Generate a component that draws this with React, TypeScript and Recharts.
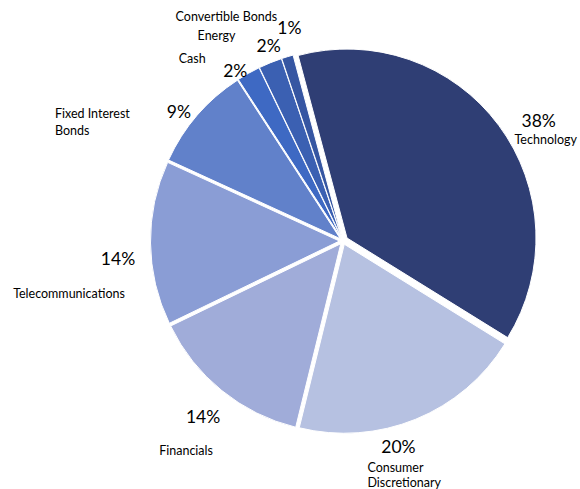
import { PieChart, Pie, Cell, Sector } from "recharts";

const CATEGORIES = [
  "Technology",
  "Consumer Discretionary",
  "Financials",
  "Telecommunications",
  "Fixed Interest Bonds",
  "Cash",
  "Energy",
  "Convertible Bonds",
];
const SHARES = [38, 20, 14, 14, 9, 2, 2, 1];
const COLORS = ["#2f3e74", "#b6c1e1", "#a0acd9", "#8a9dd5", "#6181ca", "#3e69c3", "#3b60b2", "#3656a2"];

const data = CATEGORIES.map((name, i) => ({ name, value: SHARES[i] }));

// label placement relative to the slice's outer mid point
type Lay = { pct: [number, number]; name: [number, number]; anchor?: "start" | "middle"; wrap?: number; gap?: number };
const LAYOUT: Record<string, Lay> = {
  Technology: { pct: [44, -8], name: [51, 11] },
  "Consumer Discretionary": { pct: [-16, 31], name: [-47, 52], anchor: "start", wrap: 1, gap: 15 },
  Financials: { pct: [-21, 29], name: [-38, 63] },
  Telecommunications: { pct: [-36, 16], name: [-85, 51] },
  "Fixed Interest Bonds": { pct: [-21, -6], name: [-145, -4], anchor: "start", wrap: 2, gap: 17 },
  Cash: { pct: [-15, -6], name: [-58, -18] },
  Energy: { pct: [-3, -21], name: [-55, -31] },
  "Convertible Bonds": { pct: [1, -33], name: [-62, -44] },
};

const RAD = Math.PI / 180;
const FONT = "Lato, 'Open Sans', sans-serif";

function ExplodedSector(props: any) {
  const d = props.index === 0 ? 5 : 3.5;
  const dx = d * Math.cos(-props.midAngle * RAD);
  const dy = d * Math.sin(-props.midAngle * RAD);
  return <Sector {...props} cx={props.cx + dx} cy={props.cy + dy} />;
}

function renderLabel(props: any) {
  const { cx, cy, midAngle, outerRadius, index } = props;
  const name = CATEGORIES[index];
  const lay = LAYOUT[name];
  const bx = cx + outerRadius * Math.cos(-midAngle * RAD);
  const by = cy + outerRadius * Math.sin(-midAngle * RAD);
  const words = name.split(" ");
  const lines = lay.wrap ? [words.slice(0, lay.wrap).join(" "), words.slice(lay.wrap).join(" ")] : [name];
  return (
    <g key={`lbl-${index}`}>
      <text
        x={bx + lay.pct[0]}
        y={by + lay.pct[1]}
        textAnchor="middle"
        dominantBaseline="central"
        fontSize={17.5}
        fill="#000"
        fontFamily={FONT}
      >
        {`${SHARES[index]}%`}
      </text>
      {lines.map((line, j) => (
        <text
          key={j}
          x={bx + lay.name[0]}
          y={by + lay.name[1] + j * (lay.gap ?? 16)}
          textAnchor={lay.anchor ?? "middle"}
          dominantBaseline="central"
          fontSize={12.5}
          fill="#000"
          fontFamily={FONT}
        >
          {line}
        </text>
      ))}
    </g>
  );
}

export default function App() {
  return (
    <div style={{ position: "absolute", left: 0, top: 0, width: 580, height: 489, background: "#fff" }}>
      <PieChart width={580} height={489} margin={{ top: 0, right: 0, bottom: 0, left: 0 }}>
        <Pie
          data={data}
          dataKey="value"
          nameKey="name"
          cx={343}
          cy={241}
          outerRadius={189}
          startAngle={105}
          endAngle={-255}
          stroke="#fff"
          strokeWidth={1}
          shape={ExplodedSector}
          label={renderLabel}
          labelLine={false}
          isAnimationActive={false}
        >
          {data.map((entry, i) => (
            <Cell key={entry.name} fill={COLORS[i]} />
          ))}
        </Pie>
      </PieChart>
    </div>
  );
}
